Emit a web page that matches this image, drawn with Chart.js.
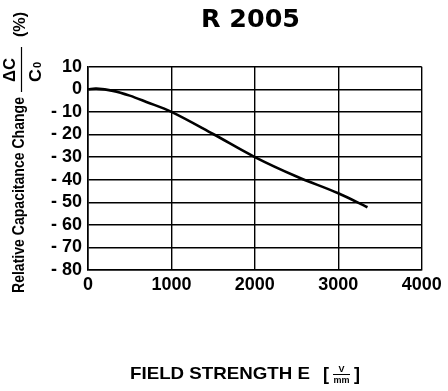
<!DOCTYPE html>
<html>
<head>
<meta charset="utf-8">
<script src="https://cdn.jsdelivr.net/npm/chart.js@4.4.0/dist/chart.umd.min.js"></script>
<style>
  html, body { margin: 0; padding: 0; background: #fff; }
  canvas { display: block; }
</style>
</head>
<body>
<canvas id="chart" width="448" height="391"></canvas>
<script>
// field strength E in V/mm, capacitance change in %
const fieldStrength = [0, 100, 300, 500, 700, 1000, 1500, 2000, 2500, 3000, 3350];
const capChange = [0, 0.3, -0.7, -2.8, -5.6, -10, -19.8, -30, -38.6, -46, -52.2];
const xTicks = [0, 1000, 2000, 3000, 4000];
const yTicks = [10, 0, -10, -20, -30, -40, -50, -60, -70, -80];

const chartTitle = "R 2005";
const yTitle = "Relative Capacitance Change";
const xTitle = "FIELD STRENGTH E";

const SANS = "Arial, 'Liberation Sans', Helvetica, sans-serif";

// draws text stretched/squeezed to a given width
function fitText(ctx, text, x, y, width) {
  const w = ctx.measureText(text).width;
  ctx.save();
  ctx.translate(x, y);
  ctx.scale(width / w, 1);
  ctx.fillText(text, 0, 0);
  ctx.restore();
}

const labelsPlugin = {
  id: "labels",
  afterDraw(chart) {
    const ctx = chart.ctx;
    ctx.save();
    ctx.fillStyle = "#000";
    ctx.strokeStyle = "#000";

    // title over the plot
    ctx.font = "bold 25px 'DejaVu Sans', sans-serif";
    ctx.textAlign = "left";
    ctx.textBaseline = "alphabetic";
    fitText(ctx, chartTitle, 201, 27, 99);

    // rotated y axis title: local u = -screenY, v = screenX
    ctx.save();
    ctx.rotate(-Math.PI / 2);
    ctx.font = "bold 17px " + SANS;
    ctx.textAlign = "left";
    fitText(ctx, yTitle, -293, 24, 196);

    // dC / C0 fraction
    ctx.lineWidth = 1.2;
    ctx.beginPath();
    ctx.moveTo(-92, 21.5);
    ctx.lineTo(-47, 21.5);
    ctx.stroke();
    ctx.font = "bold 16px " + SANS;
    fitText(ctx, "\u0394C", -82, 15, 24);
    fitText(ctx, "C", -82, 41, 13);
    ctx.font = "bold 11px " + SANS;
    ctx.fillText("0", -68, 41);

    ctx.font = "bold 16px " + SANS;
    fitText(ctx, "(%)", -37, 25, 25);
    ctx.restore();

    // x axis title with V/mm fraction
    ctx.font = "bold 17px " + SANS;
    fitText(ctx, xTitle, 130, 379, 180);
    ctx.font = "bold 18px " + SANS;
    ctx.fillText("[", 323, 380);
    ctx.fillText("]", 354, 380);
    ctx.lineWidth = 1;
    ctx.beginPath();
    ctx.moveTo(333, 374.5);
    ctx.lineTo(350, 374.5);
    ctx.stroke();
    ctx.font = "bold 9px " + SANS;
    ctx.textAlign = "center";
    ctx.fillText("V", 341.5, 372);
    ctx.fillText("mm", 341.5, 383);
    ctx.restore();
  },
};

function tickLabel(value) {
  return value < 0 ? "- " + Math.abs(value) : String(value);
}

const points = fieldStrength.map((x, i) => ({ x: x, y: capChange[i] }));

new Chart(document.getElementById("chart"), {
  type: "line",
  data: {
    datasets: [
      {
        data: points,
        borderColor: "#000",
        borderWidth: 2.6,
        pointRadius: 0,
        fill: false,
        tension: 0.35,
      },
    ],
  },
  plugins: [labelsPlugin],
  options: {
    responsive: false,
    animation: false,
    layout: { padding: { left: 0, top: 66.7, right: 26.3, bottom: 0 } },
    plugins: {
      legend: { display: false },
      tooltip: { enabled: false },
      title: { display: false },
    },
    scales: {
      x: {
        type: "linear",
        min: xTicks[0],
        max: xTicks[xTicks.length - 1],
        afterBuildTicks: (scale) => {
          scale.ticks = xTicks.map((v) => ({ value: v }));
        },
        afterFit: (scale) => {
          scale.height = 121;
        },
        grid: { color: "#000", lineWidth: 1.4, drawTicks: false },
        border: { color: "#000", width: 1.6 },
        ticks: {
          color: "#000",
          padding: 4,
          maxRotation: 0,
          autoSkip: false,
          font: { family: SANS, size: 18, weight: "bold" },
          callback: tickLabel,
        },
      },
      y: {
        type: "linear",
        min: yTicks[yTicks.length - 1],
        max: yTicks[0],
        afterBuildTicks: (scale) => {
          scale.ticks = yTicks.slice().reverse().map((v) => ({ value: v }));
        },
        afterFit: (scale) => {
          scale.width = 88;
        },
        grid: { color: "#000", lineWidth: 1.4, drawTicks: false },
        border: { color: "#000", width: 1.6 },
        ticks: {
          color: "#000",
          padding: 6,
          autoSkip: false,
          font: { family: SANS, size: 18, weight: "bold" },
          callback: tickLabel,
        },
      },
    },
  },
});
</script>
</body>
</html>
